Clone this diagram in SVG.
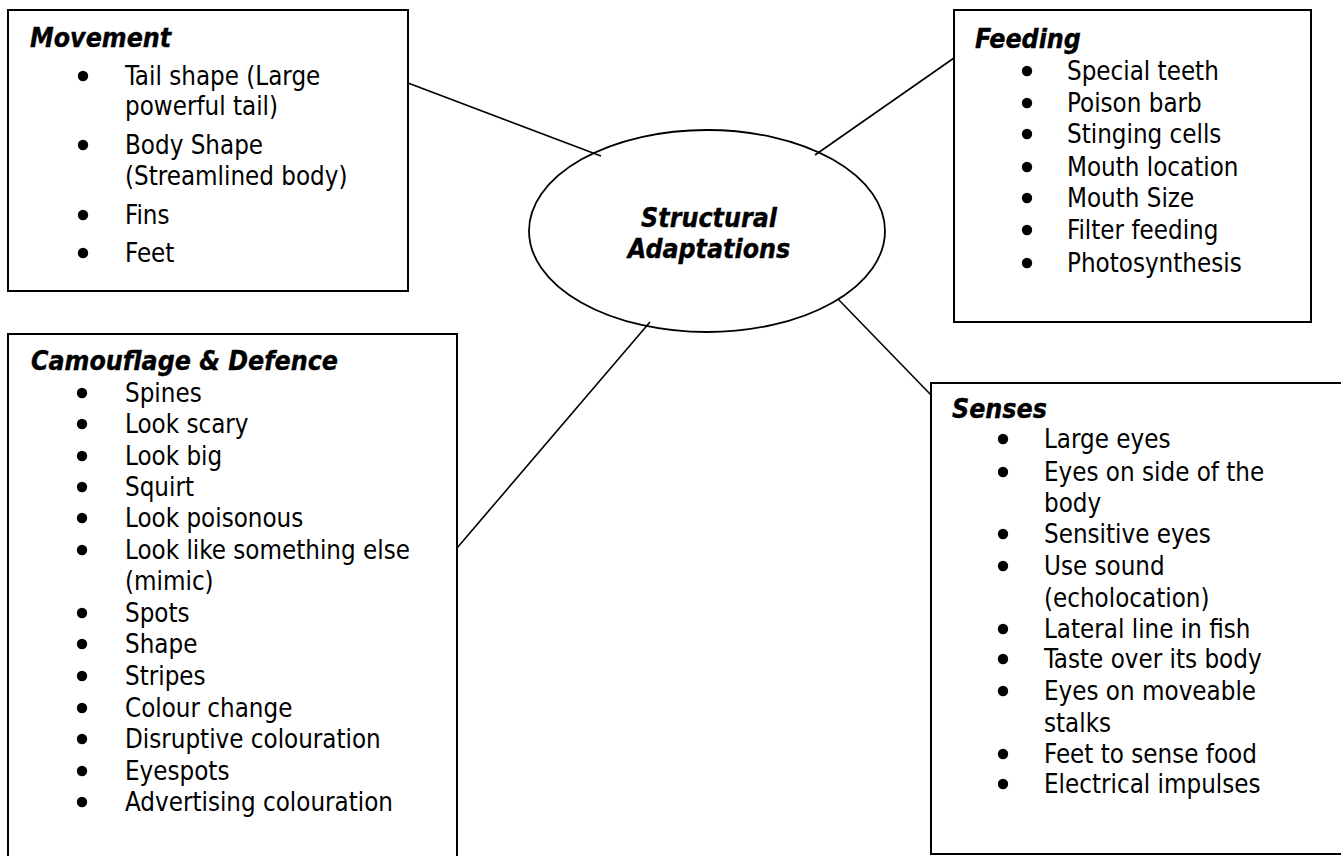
<svg xmlns="http://www.w3.org/2000/svg" width="1341" height="856" viewBox="0 0 1341 856">
<style>
.box{fill:#fff;stroke:#000;stroke-width:2}
.conn line{stroke:#000;stroke-width:1.6}
.dot{fill:#000}
text{font-family:"DejaVu Sans Condensed","DejaVu Sans",sans-serif;font-stretch:condensed;font-size:25.7px;fill:#000}
.t{font-weight:bold;font-style:italic;font-size:26.5px;stroke:#000;stroke-width:0.35}
</style>
<defs><circle id="bl" r="5.2" class="dot"/></defs>
<rect width="1341" height="856" fill="#fff"/>
<g class="conn" id="connectors">
<line x1="408" y1="83" x2="601" y2="156"/>
<line x1="954" y1="58" x2="815" y2="155"/>
<line x1="457" y1="548" x2="650" y2="322"/>
<line x1="838" y1="299" x2="931" y2="395"/>
</g>
<g id="center">
<ellipse cx="707" cy="231" rx="178" ry="101" fill="none" stroke="#000" stroke-width="1.8"/>
<text class="t" x="709" y="227" text-anchor="middle">Structural</text>
<text class="t" x="709" y="258" text-anchor="middle">Adaptations</text>
</g>
<g id="movement">
<rect class="box" x="8" y="10" width="400" height="281"/>
<text class="t" x="30" y="47">Movement</text>
<use href="#bl" x="83" y="76"/><use href="#bl" x="83" y="145"/><use href="#bl" x="83" y="215"/><use href="#bl" x="83" y="253"/>
<text x="125" y="85">Tail shape (Large</text>
<text x="125" y="115">powerful tail)</text>
<text x="125" y="154">Body Shape</text>
<text x="125" y="185">(Streamlined body)</text>
<text x="125" y="224">Fins</text>
<text x="125" y="262">Feet</text>
</g>
<g id="feeding">
<rect class="box" x="954" y="10" width="357" height="312"/>
<text class="t" x="975" y="48">Feeding</text>
<use href="#bl" x="1027" y="71"/><use href="#bl" x="1027" y="103"/><use href="#bl" x="1027" y="134"/><use href="#bl" x="1027" y="167"/><use href="#bl" x="1027" y="198"/><use href="#bl" x="1027" y="230"/><use href="#bl" x="1027" y="263"/>
<text x="1067" y="80">Special teeth</text>
<text x="1067" y="112">Poison barb</text>
<text x="1067" y="143">Stinging cells</text>
<text x="1067" y="176">Mouth location</text>
<text x="1067" y="207">Mouth Size</text>
<text x="1067" y="239">Filter feeding</text>
<text x="1067" y="272">Photosynthesis</text>
</g>
<g id="camouflage">
<rect class="box" x="8" y="334" width="449" height="540"/>
<text class="t" x="31" y="370">Camouflage &amp; Defence</text>
<use href="#bl" x="82" y="393"/><use href="#bl" x="82" y="424"/><use href="#bl" x="82" y="456"/><use href="#bl" x="82" y="487"/><use href="#bl" x="82" y="518"/><use href="#bl" x="82" y="550"/><use href="#bl" x="82" y="613"/><use href="#bl" x="82" y="644"/><use href="#bl" x="82" y="676"/><use href="#bl" x="82" y="708"/><use href="#bl" x="82" y="739"/><use href="#bl" x="82" y="771"/><use href="#bl" x="82" y="802"/>
<text x="125" y="402">Spines</text>
<text x="125" y="433">Look scary</text>
<text x="125" y="465">Look big</text>
<text x="125" y="496">Squirt</text>
<text x="125" y="527">Look poisonous</text>
<text x="125" y="559">Look like something else</text>
<text x="125" y="590">(mimic)</text>
<text x="125" y="622">Spots</text>
<text x="125" y="653">Shape</text>
<text x="125" y="685">Stripes</text>
<text x="125" y="717">Colour change</text>
<text x="125" y="748">Disruptive colouration</text>
<text x="125" y="780">Eyespots</text>
<text x="125" y="811">Advertising colouration</text>
</g>
<g id="senses">
<rect class="box" x="931" y="383" width="430" height="471"/>
<text class="t" x="952" y="418">Senses</text>
<use href="#bl" x="1003" y="439"/><use href="#bl" x="1003" y="472"/><use href="#bl" x="1003" y="534"/><use href="#bl" x="1003" y="566"/><use href="#bl" x="1003" y="629"/><use href="#bl" x="1003" y="659"/><use href="#bl" x="1003" y="691"/><use href="#bl" x="1003" y="754"/><use href="#bl" x="1003" y="784"/>
<text x="1044" y="448">Large eyes</text>
<text x="1044" y="481">Eyes on side of the</text>
<text x="1044" y="512">body</text>
<text x="1044" y="543">Sensitive eyes</text>
<text x="1044" y="575">Use sound</text>
<text x="1044" y="607">(echolocation)</text>
<text x="1044" y="638">Lateral line in fish</text>
<text x="1044" y="668">Taste over its body</text>
<text x="1044" y="700">Eyes on moveable</text>
<text x="1044" y="732">stalks</text>
<text x="1044" y="763">Feet to sense food</text>
<text x="1044" y="793">Electrical impulses</text>
</g>
</svg>
